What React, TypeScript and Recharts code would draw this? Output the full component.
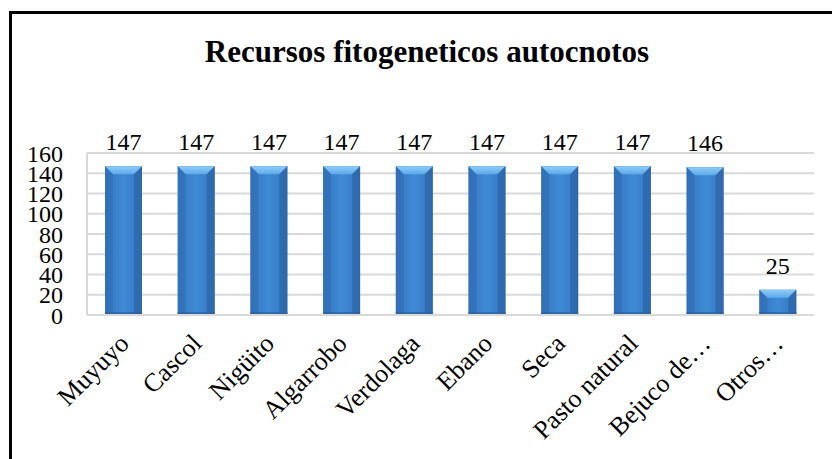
import React from 'react';
import { BarChart, Bar, XAxis, YAxis, CartesianGrid, LabelList } from 'recharts';

const categories = ['Muyuyo', 'Cascol', 'Nigüito', 'Algarrobo', 'Verdolaga', 'Ebano', 'Seca', 'Pasto natural', 'Bejuco de…', 'Otros…'];
const counts = [147, 147, 147, 147, 147, 147, 147, 147, 146, 25];
const yTicks = [0, 20, 40, 60, 80, 100, 120, 140, 160];

const data = categories.map((name, i) => ({ name, value: counts[i] }));

const FONT = '"Times New Roman", "Liberation Serif", Tinos, "DejaVu Serif", serif';

// bar with bevelled top and shaded sides, like the office "cylinder" style
const BevelBar = (props: any) => {
  const { x, y, width, height } = props;
  if (!height || height <= 0) return null;
  const b = Math.min(8, height / 2);
  return (
    <g>
      <rect x={x} y={y} width={width} height={height} fill="url(#barBody)" />
      <polygon
        points={`${x},${y} ${x + width},${y} ${x + width - b},${y + b} ${x + b},${y + b}`}
        fill="url(#barTop)"
      />
      <polygon
        points={`${x},${y} ${x + b},${y + b} ${x + b},${y + height - 3} ${x},${y + height}`}
        fill="#2f6cb0"
        opacity={0.55}
      />
      <polygon
        points={`${x + width},${y} ${x + width - b},${y + b} ${x + width - b},${y + height - 3} ${x + width},${y + height}`}
        fill="#2a609e"
        opacity={0.6}
      />
      <rect x={x} y={y + height - 3} width={width} height={3} fill="#2c5f98" opacity={0.7} />
    </g>
  );
};

const XTick = (props: any) => {
  const { x, y, payload } = props;
  return (
    <g transform={`translate(${x + 7},${y + 22})`}>
      <text transform="rotate(-45)" textAnchor="end" fontSize={26} fontFamily={FONT} fill="#000">
        {payload.value}
      </text>
    </g>
  );
};

export default function App() {
  return (
    <div style={{ position: 'absolute', left: 0, top: 0, width: 832, height: 459, background: '#fff' }}>
      <div
        style={{
          position: 'absolute', left: 9, top: 11, width: 823, height: 448,
          borderTop: '3px solid #000', borderLeft: '3px solid #000', boxSizing: 'border-box',
        }}
      />
      <div
        style={{
          position: 'absolute', left: 22, top: 36, width: 810, textAlign: 'center',
          fontFamily: FONT, fontWeight: 'bold', fontSize: 31, lineHeight: '31px', color: '#000',
        }}
      >
        Recursos fitogeneticos autocnotos
      </div>
      <BarChart
        width={832}
        height={459}
        data={data}
        margin={{ top: 153, right: 18, bottom: 44, left: 0 }}
        barSize={37}
        style={{ fontFamily: FONT }}
      >
        <defs>
          <linearGradient id="barBody" x1="0" y1="0" x2="1" y2="0">
            <stop offset="0%" stopColor="#3576c0" />
            <stop offset="50%" stopColor="#3f8ad6" />
            <stop offset="100%" stopColor="#3576c0" />
          </linearGradient>
          <linearGradient id="barTop" x1="0" y1="0" x2="0" y2="1">
            <stop offset="0%" stopColor="#8fcdf8" />
            <stop offset="100%" stopColor="#5ea9ea" />
          </linearGradient>
        </defs>
        <CartesianGrid vertical={false} stroke="#d9d9d9" strokeWidth={2} />
        <XAxis
          dataKey="name"
          interval={0}
          height={100}
          tick={<XTick />}
          tickLine={false}
          axisLine={{ stroke: '#d9d9d9', strokeWidth: 2 }}
        />
        <YAxis
          width={87}
          domain={[0, 160]}
          ticks={yTicks}
          interval={0}
          tickLine={false}
          tickMargin={18}
          axisLine={{ stroke: '#d9d9d9', strokeWidth: 2 }}
          tick={{ fontSize: 24, fontFamily: FONT, fill: '#000' }}
        />
        <Bar dataKey="value" shape={<BevelBar />} isAnimationActive={false}>
          <LabelList dataKey="value" position="top" offset={16} fontSize={24} fontFamily={FONT} fill="#000" />
        </Bar>
      </BarChart>
    </div>
  );
}
